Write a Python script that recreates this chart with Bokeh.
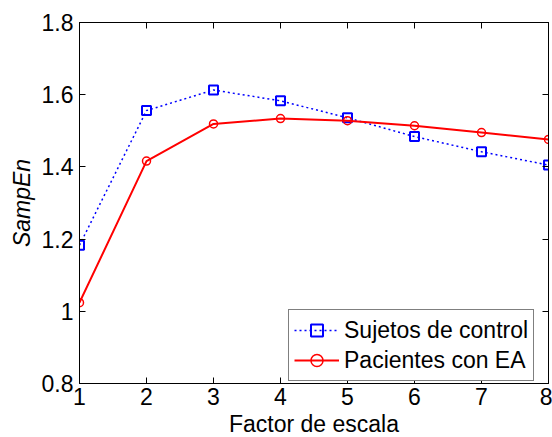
from bokeh.plotting import figure
from bokeh.models import LinearAxis, Range1d, FixedTicker, Legend, LegendItem
from bokeh.embed import file_html
from bokeh.resources import INLINE

scale = [1, 2, 3, 4, 5, 6, 7, 8]
control = [1.183, 1.556, 1.613, 1.583, 1.536, 1.484, 1.442, 1.405]
patients = [1.024, 1.416, 1.519, 1.534, 1.528, 1.514, 1.495, 1.476]
x_ticks = [1, 2, 3, 4, 5, 6, 7, 8]
y_ticks = [0.8, 1.0, 1.2, 1.4, 1.6, 1.8]
y_labels = {0.8: "0.8", 1.0: "1", 1.2: "1.2", 1.4: "1.4", 1.6: "1.6", 1.8: "1.8"}

FONT = "Liberation Sans"
FS = "23px"

p = figure(width=552, height=437, output_backend="svg", toolbar_location=None,
           x_range=Range1d(1, 8), y_range=Range1d(0.8, 1.8),
           min_border_left=79, min_border_right=4, min_border_top=22, min_border_bottom=54,
           background_fill_color="white", border_fill_color="white")
p.frame_width = 469
p.frame_height = 361
p.grid.visible = False
p.outline_line_color = "black"
p.outline_line_width = 1

for ax in (p.xaxis[0], p.yaxis[0]):
    ax.major_tick_in = 6
    ax.major_tick_out = 0
    ax.minor_tick_in = 0
    ax.minor_tick_out = 0
    ax.axis_line_color = "black"
    ax.major_tick_line_color = "black"
    ax.major_label_text_font = FONT
    ax.major_label_text_font_size = FS
    ax.major_label_text_color = "black"
    ax.axis_label_text_font = FONT
    ax.axis_label_text_font_size = FS
    ax.axis_label_text_color = "black"

p.xaxis[0].ticker = FixedTicker(ticks=x_ticks)
p.yaxis[0].ticker = FixedTicker(ticks=y_ticks)
p.yaxis[0].major_label_overrides = y_labels
p.xaxis[0].axis_label = "Factor de escala"
p.yaxis[0].axis_label = "SampEn"
p.xaxis[0].axis_label_text_font_style = "normal"
p.yaxis[0].axis_label_text_font_style = "italic"
p.xaxis[0].major_label_standoff = 4
p.yaxis[0].major_label_standoff = 6
p.xaxis[0].axis_label_standoff = 3
p.yaxis[0].axis_label_standoff = 4

blank_x = {t: "" for t in x_ticks}
blank_y = {t: "" for t in y_ticks}
top = LinearAxis(ticker=FixedTicker(ticks=x_ticks), major_tick_in=6, major_tick_out=0,
                 minor_tick_in=0, minor_tick_out=0, major_label_overrides=blank_x,
                 major_label_standoff=0)
right = LinearAxis(ticker=FixedTicker(ticks=y_ticks), major_tick_in=6, major_tick_out=0,
                   minor_tick_in=0, minor_tick_out=0, major_label_overrides=blank_y,
                   major_label_standoff=0)
p.add_layout(top, "above")
p.add_layout(right, "right")

l1 = p.line(scale, control, line_color="blue", line_width=1.5, line_dash="2 3")
s1 = p.scatter(scale, control, marker="square", size=9, line_color="blue",
               line_width=2, fill_color=None)
l2 = p.line(scale, patients, line_color="red", line_width=2)
s2 = p.scatter(scale, patients, marker="circle", size=8, line_color="red",
               line_width=1.5, fill_color=None)

legend = Legend(items=[LegendItem(label="Sujetos de control", renderers=[l1, s1]),
                       LegendItem(label="Pacientes con EA", renderers=[l2, s2])],
                location=(209, 2), label_text_font=FONT, label_text_font_size=FS,
                label_text_color="black", glyph_width=45, glyph_height=30,
                label_standoff=5, padding=5, spacing=0, margin=0,
                border_line_color="black", border_line_width=1,
                background_fill_alpha=1)
p.add_layout(legend, "center")

open("out.html", "w").write(file_html(p, INLINE))
